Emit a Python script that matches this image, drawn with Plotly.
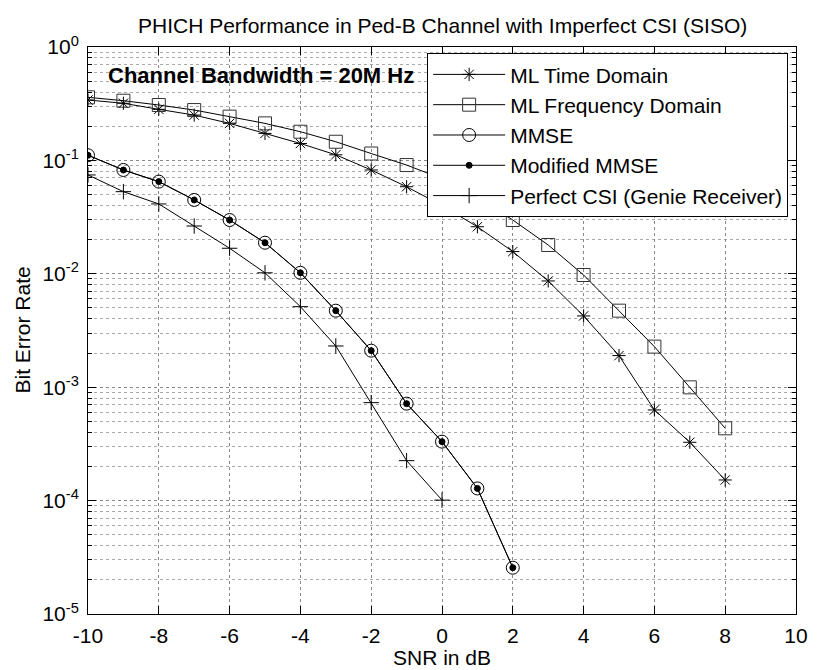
import plotly.graph_objects as go

snr_ml = [-10, -9, -8, -7, -6, -5, -4, -3, -2, -1, 0, 1, 2, 3, 4, 5, 6, 7, 8]
ber_ml_time = [0.341, 0.319, 0.282, 0.251, 0.212, 0.173, 0.141, 0.112, 0.0823, 0.0586,
               0.040, 0.0260, 0.0157, 0.00865, 0.00425, 0.0019, 0.00063, 0.000327, 0.000152]
ber_ml_freq = [0.360, 0.336, 0.308, 0.278, 0.243, 0.212, 0.179, 0.146, 0.115, 0.091,
               0.069, 0.047, 0.0298, 0.01795, 0.00976, 0.00473, 0.00228, 0.000997, 0.000434]

snr_mmse = [-10, -9, -8, -7, -6, -5, -4, -3, -2, -1, 0, 1, 2]
ber_mmse = [0.111, 0.0823, 0.065, 0.0448, 0.0298, 0.0188, 0.0102, 0.00473, 0.0021,
            0.000716, 0.000331, 0.000128, 2.56e-5]
ber_mod_mmse = [0.111, 0.0823, 0.065, 0.0448, 0.0298, 0.0188, 0.0102, 0.00473, 0.0021,
                0.000716, 0.000331, 0.000128, 2.56e-5]

snr_perfect = [-10, -9, -8, -7, -6, -5, -4, -3, -2, -1, 0]
ber_perfect = [0.0744, 0.053, 0.0413, 0.0264, 0.0168, 0.0102, 0.00513, 0.00231,
               0.000731, 0.000225, 0.000101]

x_ticks = [-10, -8, -6, -4, -2, 0, 2, 4, 6, 8, 10]
y_tickvals = [1e-5, 1e-4, 1e-3, 1e-2, 1e-1, 1]
y_ticktext = ["10<sup>-5</sup>", "10<sup>-4</sup>", "10<sup>-3</sup>",
              "10<sup>-2</sup>", "10<sup>-1</sup>", "10<sup>0</sup>"]

FONT = "Liberation Sans, Arial, sans-serif"
FS = 21

fig = go.Figure()

def add(x, y, name, symbol, size, color="black"):
    fig.add_trace(go.Scatter(
        x=x, y=y, name=name, mode="lines+markers",
        line=dict(color="black", width=1),
        marker=dict(symbol=symbol, size=size, color=color,
                    line=dict(color=color, width=1)),
    ))

add(snr_ml, ber_ml_time, "ML Time Domain", "asterisk-open", 11)
add(snr_ml, ber_ml_freq, "ML Frequency Domain", "square-open", 13, color="#333333")
add(snr_mmse, ber_mmse, "MMSE", "circle-open", 13)
add(snr_mmse, ber_mod_mmse, "Modified MMSE", "circle", 6)
add(snr_perfect, ber_perfect, "Perfect CSI (Genie Receiver)", "cross-thin-open", 11)

fig.add_annotation(
    text="<b>Channel Bandwidth = 20M Hz</b>", xref="paper", yref="paper",
    x=0.026, y=0.9489, xanchor="left", yanchor="middle", showarrow=False,
    font=dict(family=FONT, size=22, color="black"),
)
fig.add_annotation(
    text="PHICH Performance in Ped-B Channel with Imperfect CSI (SISO)",
    xref="paper", yref="paper", x=0.5, y=1, yshift=22,
    xanchor="center", yanchor="middle", showarrow=False,
    font=dict(family=FONT, size=FS, color="black"),
)
fig.add_annotation(
    text="SNR in dB", xref="paper", yref="paper", x=0.5, y=0, yshift=-56,
    xanchor="center", yanchor="bottom", borderpad=0, showarrow=False,
    font=dict(family=FONT, size=FS, color="black"),
)
fig.add_annotation(
    text="Bit Error Rate", xref="paper", yref="paper", x=0, y=0.5, xshift=-66,
    xanchor="center", yanchor="middle", textangle=-90, showarrow=False,
    font=dict(family=FONT, size=FS, color="black"),
)

axis_common = dict(
    showline=True, linecolor="black", linewidth=1, mirror="allticks",
    ticks="inside", ticklen=8, tickcolor="black",
    showgrid=True, gridcolor="#888888", griddash="dot", gridwidth=1,
    zeroline=False, tickfont=dict(family=FONT, size=FS, color="black"),
)

fig.update_xaxes(
    range=[-10, 10], tickvals=x_ticks, ticktext=[str(v) for v in x_ticks],
    ticklabelstandoff=3,
    **axis_common,
)
fig.update_yaxes(
    type="log", range=[-5, 0], tickvals=y_tickvals, ticktext=y_ticktext,
    ticklabelstandoff=4,
    minor=dict(ticks="inside", ticklen=4, tickcolor="black", showgrid=True,
               gridcolor="#aaaaaa", griddash="dot", gridwidth=1, dtick="D1"),
    **axis_common,
)

fig.update_layout(
    width=820, height=670,
    margin=dict(l=88, r=12, t=47, b=56),
    paper_bgcolor="white", plot_bgcolor="white",
    font=dict(family=FONT, size=FS, color="black"),
    legend=dict(x=0.479, y=0.989, xanchor="left", yanchor="top",
                bgcolor="white", bordercolor="black", borderwidth=1,
                itemwidth=72, font=dict(family=FONT, size=FS, color="black")),
    showlegend=True,
)

# remove the default 8px page margin so the figure fills the window exactly
fig.write_html("out.html",
               config={"displayModeBar": False},
               post_script="document.body.style.margin='0';document.body.style.overflow='hidden';")
